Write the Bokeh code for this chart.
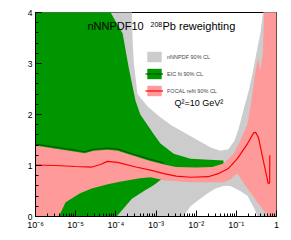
import math
from bokeh.plotting import figure
from bokeh.models import (LogTicker, SingleIntervalTicker, CustomJSTickFormatter,
                          Label, Legend, LegendItem, Range1d)
from bokeh.embed import file_html
from bokeh.resources import INLINE

# ---------------- data (log10 x , R_g) ----------------
# nNNPDF 90% CL band
gray_up_lx = [-6.0, -3.65, -3.60, -3.58, -3.55, -3.46, -3.20, -2.90, -2.60, -2.10, -1.65, -1.40,
              -1.20, -1.05, -0.95, -0.80, -0.68, -0.60, -0.50, -0.40, -0.30, 0.0]
gray_up_r = [5.0, 4.6, 4.0, 3.4, 3.0, 2.4, 2.15, 1.95, 1.78, 1.56, 1.36, 1.29,
             1.32, 1.48, 1.70, 2.15, 2.50, 2.80, 3.20, 3.60, 4.20, 5.0]
gray_lo_lx = [-6.0, -2.50, -2.32, -2.14, -1.90, -1.72, -1.52, -1.32, -1.15, -0.90, -0.72,
              -0.55, -0.47, -0.30, 0.0]
gray_lo_r = [-0.5, -0.3, 0.0, 0.2, 0.35, 0.45, 0.55, 0.60, 0.60, 0.50, 0.40,
             0.15, 0.0, -0.3, -0.5]

# EIC fit 90% CL band
green_up_lx = [-6.0, -4.25, -4.13, -3.83, -3.68, -3.51, -3.39, -3.06, -2.89, -2.56, -2.14, -1.32]
green_up_r = [5.0, 4.6, 4.0, 3.59, 2.92, 2.27, 2.0, 1.62, 1.43, 1.23, 1.13, 1.10]
green_lo_lx = [-6.0, -4.30, -3.98, -3.60, -3.30, -3.05, -2.85, -2.50, -1.32]
green_lo_r = [-0.5, -0.3, 0.0, 0.35, 0.50, 0.62, 0.74, 0.80, 0.90]
green_c_lx = [-6.0, -5.5, -5.0, -4.78, -4.55, -4.2, -3.95, -3.6, -3.14, -2.8]
green_c_r = [1.42, 1.36, 1.30, 1.27, 1.32, 1.34, 1.32, 1.23, 1.12, 1.05]

# FOCAL refit 90% CL band
pink_up_lx = [-6.0, -5.5, -5.0, -4.78, -4.55, -4.2, -3.95, -3.6, -3.14, -2.8, -2.5, -2.0, -1.6,
              -1.32, -1.07, -0.9, -0.72, -0.62, -0.55, -0.5, -0.45, -0.41, -0.34, -0.28, 0.0]
pink_up_r = [1.39, 1.33, 1.27, 1.24, 1.29, 1.31, 1.29, 1.20, 1.09, 1.02, 0.97, 0.96, 0.97,
             1.04, 1.23, 1.49, 1.82, 2.30, 2.70, 2.95, 3.10, 2.85, 3.20, 4.50, 5.0]
pink_lo_lx = [-6.0, -5.42, -5.25, -4.9, -4.6, -4.2, -3.9, -3.4, -3.14, -2.8, -2.14, -1.32,
              -1.15, -1.0, -0.93, -0.82, -0.57, -0.32, -0.2, 0.0]
pink_lo_r = [-0.5, 0.0, 0.28, 0.45, 0.55, 0.63, 0.68, 0.75, 0.77, 0.71, 0.67, 0.67,
             0.72, 0.84, 0.80, 0.65, 0.38, 0.12, 0.0, -0.5]
red_lx = [-6.0, -5.5, -5.0, -4.6, -4.38, -4.21, -3.96, -3.5, -3.14, -2.8, -2.5, -2.14, -1.7,
          -1.45, -1.2, -0.97, -0.72, -0.57, -0.52, -0.45, -0.33, -0.225, -0.21, -0.17, -0.168]
red_r = [1.01, 1.00, 0.98, 0.97, 1.02, 1.08, 1.06, 0.97, 0.91, 0.84, 0.79, 0.77, 0.78,
         0.84, 0.94, 1.14, 1.43, 1.64, 1.65, 1.55, 1.10, 0.72, 0.65, 0.66, 1.20]

x_min, x_max = 1e-6, 1.0
y_min, y_max = 0, 4

def tx(lx):
    return [10 ** v for v in lx]

FONT = "Liberation Sans"

p = figure(frame_width=241, frame_height=204, x_axis_type="log",
           x_range=Range1d(x_min, x_max), y_range=Range1d(y_min, y_max),
           output_backend="svg", toolbar_location=None,
           min_border_left=35, min_border_right=14, min_border_top=12, min_border_bottom=23)
p.xgrid.visible = False
p.ygrid.visible = False
p.outline_line_color = "black"
p.outline_line_width = 1
p.background_fill_color = "white"
p.border_fill_color = "white"

gray = p.patch(tx(gray_up_lx) + tx(gray_lo_lx)[::-1], gray_up_r + gray_lo_r[::-1],
               fill_color="#cccccc", line_color=None)
gray_l = p.line(x=[], y=[], line_color="#444444", line_width=1.2)
green = p.patch(tx(green_up_lx) + tx(green_lo_lx)[::-1], green_up_r + green_lo_r[::-1],
                fill_color="#009600", line_color=None)
green_l = p.line(tx(green_c_lx), green_c_r, line_color="#005a00", line_width=1.2)
pink = p.patch(tx(pink_up_lx) + tx(pink_lo_lx)[::-1], pink_up_r + pink_lo_r[::-1],
               fill_color="#ff9a9a", line_color=None)
red_l = p.line(tx(red_lx), red_r, line_color="#ff0000", line_width=1.2)

# axes
xa = p.xaxis[0]
xa.ticker = LogTicker(num_minor_ticks=10)
xa.formatter = CustomJSTickFormatter(code="""
const e = Math.round(Math.log10(tick));
if (e == 0) { return "1"; }
const sup = {"-":"\u207b","0":"\u2070","1":"\u00b9","2":"\u00b2","3":"\u00b3","4":"\u2074","5":"\u2075","6":"\u2076","7":"\u2077","8":"\u2078","9":"\u2079"};
return "10" + String(e).split("").map(c => sup[c]).join("");
""")
ya = p.yaxis[0]
ya.ticker = SingleIntervalTicker(interval=1, num_minor_ticks=5)
for ax in (xa, ya):
    ax.major_tick_in = 6
    ax.major_tick_out = 0
    ax.minor_tick_in = 3
    ax.minor_tick_out = 0
    ax.axis_line_color = "black"
    ax.major_tick_line_color = "black"
    ax.minor_tick_line_color = "black"
    ax.major_label_text_font = FONT
    ax.major_label_text_color = "black"
xa.major_label_text_font_size = "9px"
ya.major_label_text_font_size = "8.5px"
xa.major_label_standoff = 3
ya.major_label_standoff = 3

# legend
legend = Legend(items=[
    LegendItem(label="nNNPDF 90% CL", renderers=[gray, gray_l]),
    LegendItem(label="EIC fit 90% CL", renderers=[green, green_l]),
    LegendItem(label="FOCAL refit 90% CL", renderers=[pink, red_l]),
], location=(110, 119))
legend.padding = 4
legend.spacing = 4
legend.margin = 0
legend.glyph_width = 18
legend.glyph_height = 13
legend.label_height = 13
legend.label_standoff = 4
legend.label_text_font = FONT
legend.label_text_font_size = "5.5px"
legend.border_line_color = None
legend.background_fill_color = "white"
legend.background_fill_alpha = 1.0
p.add_layout(legend, "center")

def lab(text, x, y, size, **kw):
    p.add_layout(Label(x=x, y=y, x_units="screen", y_units="screen", text=text,
                       text_font=FONT, text_font_size=size, text_color="black", **kw))

lab("nNNPDF10", 52, 185, "11px")
lab("208", 115, 190, "7px")
lab("Pb reweighting", 127, 185, "11px")
lab("Q\u00b2=10 GeV\u00b2", 139, 109, "9px")
lab("x", 241, -20, "10px", text_align="right")
lab("R", -19.7, 202, "9px", text_align="right", angle=math.pi / 2)
lab("g", -18.5, 205, "6.5px", text_align="right", angle=math.pi / 2)

open("out.html", "w").write(file_html(p, INLINE))
